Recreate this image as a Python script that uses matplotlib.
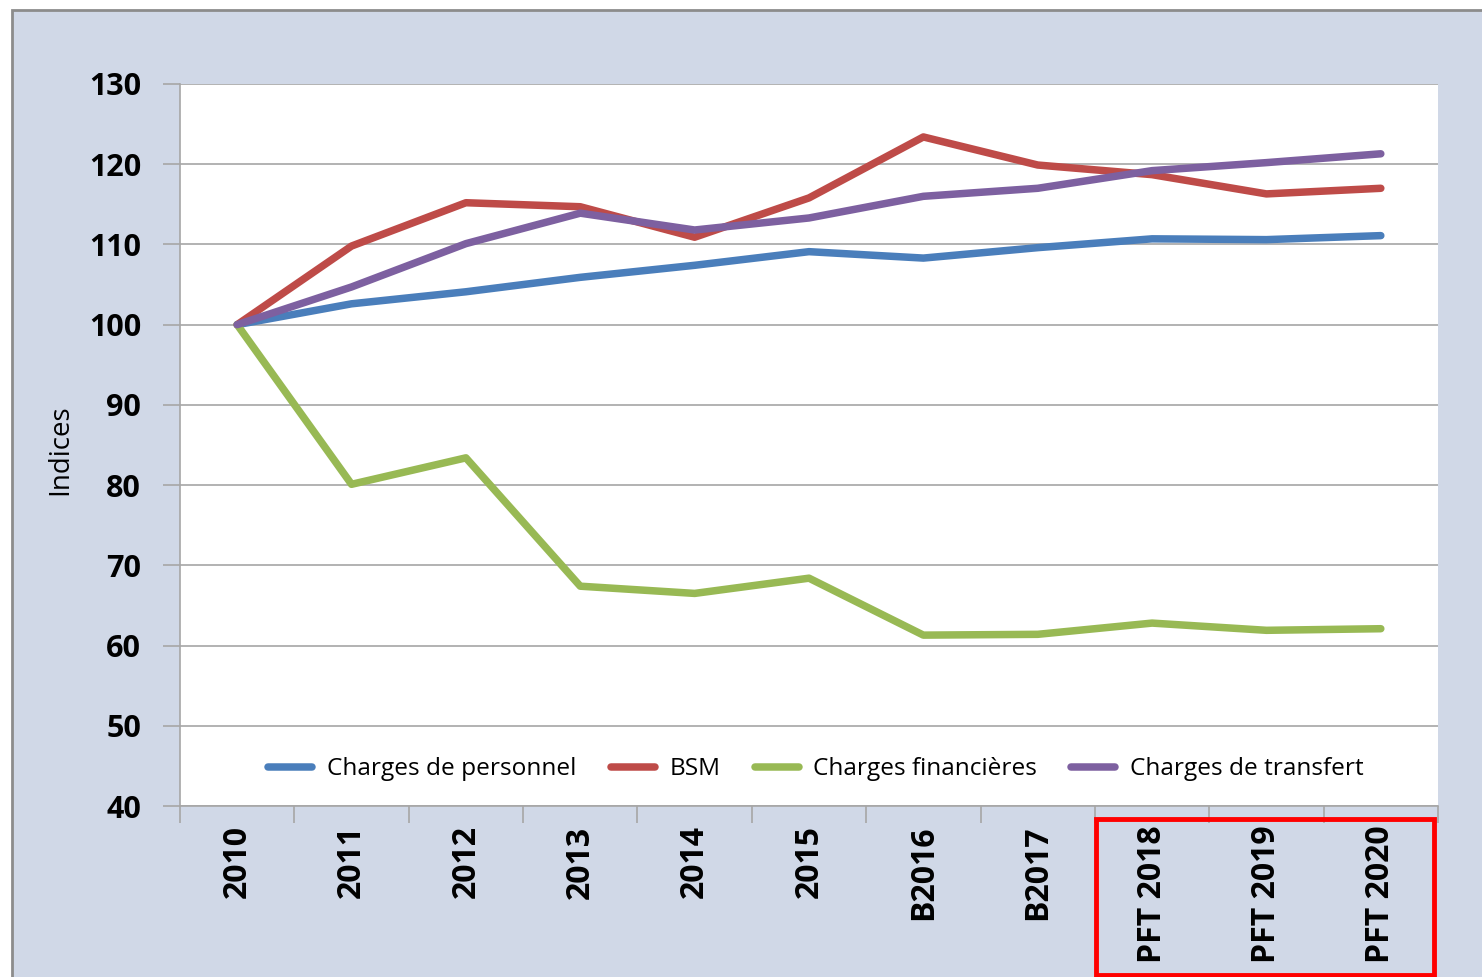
import matplotlib.pyplot as plt
from matplotlib.patches import Rectangle

# Données (indices base 100 en 2010)
annees = ['2010', '2011', '2012', '2013', '2014', '2015', 'B2016', 'B2017',
          'PFT 2018', 'PFT 2019', 'PFT 2020']
personnel = [100, 102.6, 104.1, 105.9, 107.4, 109.1, 108.3, 109.6, 110.7, 110.6, 111.1]
bsm = [100, 109.8, 115.2, 114.7, 110.9, 115.8, 123.4, 119.9, 118.7, 116.3, 117.0]
financieres = [100, 80.1, 83.4, 67.4, 66.5, 68.4, 61.3, 61.4, 62.8, 61.9, 62.1]
transfert = [100, 104.7, 110.1, 113.9, 111.8, 113.3, 116.0, 117.0, 119.2, 120.2, 121.3]
y_ticks = [40, 50, 60, 70, 80, 90, 100, 110, 120, 130]

bg = '#D0D8E7'
police = ['Open Sans', 'DejaVu Sans']

fig = plt.figure(figsize=(14.82, 9.77), dpi=100, facecolor='white')

# Fond gris-bleu avec bordure
fig.patches.append(Rectangle((12 / 1482, -0.05), 1.1, 1 - 10 / 977 + 0.05,
                             transform=fig.transFigure, facecolor=bg,
                             edgecolor='#8C8C8C', linewidth=2, zorder=-5))

ax = fig.add_axes([180 / 1482, 1 - 806 / 977, 1258 / 1482, 722 / 977])
ax.set_facecolor('white')

x = range(len(annees))
ax.plot(x, personnel, color='#4A7EBB', lw=5.4, solid_capstyle='round', label='Charges de personnel')
ax.plot(x, bsm, color='#BE4B48', lw=5.4, solid_capstyle='round', label='BSM')
ax.plot(x, financieres, color='#98B954', lw=5.4, solid_capstyle='round', label='Charges financières')
ax.plot(x, transfert, color='#7D60A0', lw=5.4, solid_capstyle='round', label='Charges de transfert')

ax.set_xlim(-0.5, len(annees) - 0.5)
ax.set_ylim(40, 130)
ax.set_yticks(y_ticks)
ax.set_yticklabels([str(v) for v in y_ticks], fontsize=22, fontweight='bold', family=police)
ax.yaxis.grid(True, color='#A6A6A6', linewidth=1.2)
ax.set_axisbelow(True)

# Graduations x entre les catégories
ax.set_xticks(list(x))
ax.set_xticklabels(annees, rotation=90, fontsize=23, fontweight='bold', family=police, va='top')
ax.tick_params(axis='x', length=0, pad=14)
ax.set_xticks([i - 0.5 for i in range(len(annees) + 1)], minor=True)
ax.tick_params(axis='x', which='minor', length=12, color='#A6A6A6', width=1.2)
ax.tick_params(axis='y', length=12, color='#A6A6A6', width=1.2, pad=16)

for s in ['top', 'right']:
    ax.spines[s].set_visible(False)
for s in ['left', 'bottom']:
    ax.spines[s].set_color('#A6A6A6')
    ax.spines[s].set_linewidth(1.2)

ax.set_ylabel('Indices', fontsize=20, family=police)
ax.yaxis.set_label_coords(-0.0843, 0.494)

leg = ax.legend(loc='center', bbox_to_anchor=(0.5056, 0.051), ncol=4, frameon=False,
                prop={'family': police, 'size': 17.6}, handlelength=1.8,
                columnspacing=1.4, handletextpad=0.6)

# Cadre rouge autour des prévisions
fig.patches.append(Rectangle((1096 / 1482, 1 - 975 / 977), 338 / 1482, 156 / 977,
                             transform=fig.transFigure, fill=False,
                             edgecolor='#FF0000', linewidth=3.5, zorder=5))

fig.savefig('out.png', dpi=100, facecolor='white')
